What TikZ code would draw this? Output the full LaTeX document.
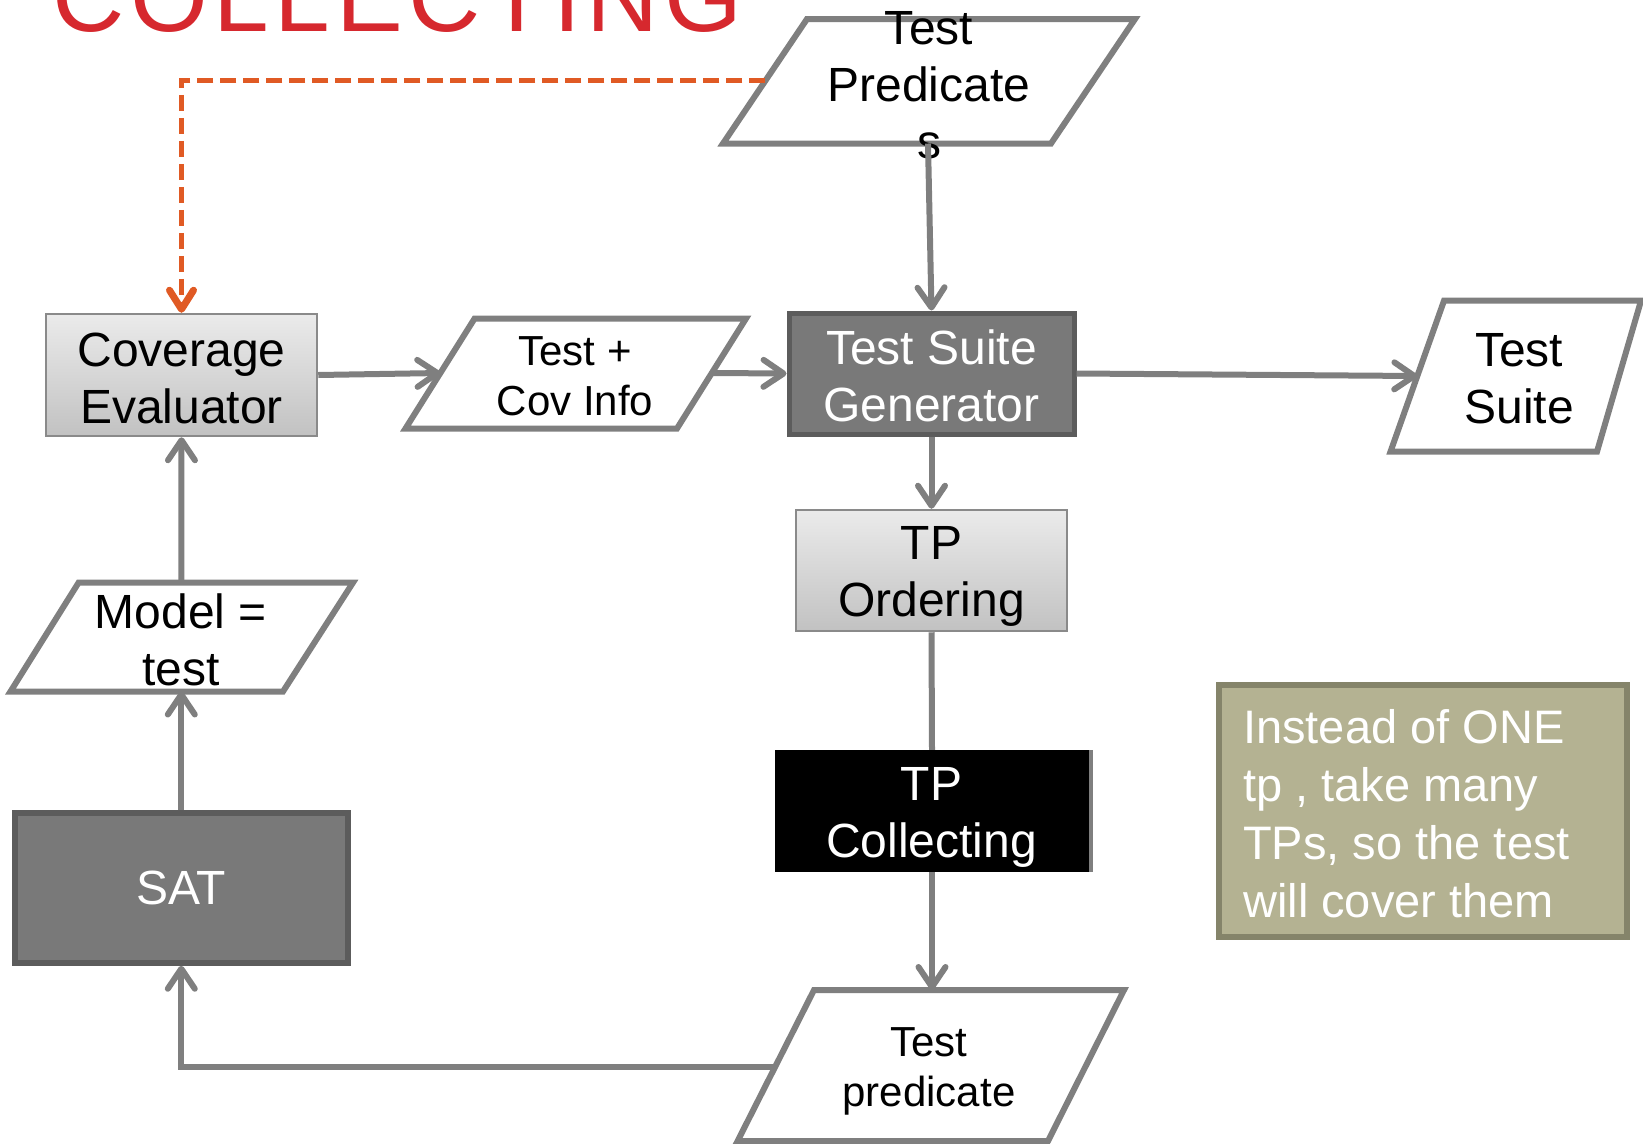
\documentclass[tikz,border=0pt]{standalone}
\usepackage{fontspec}
\setmainfont{Liberation Sans}
\newfontfamily\headingfont{Liberation Sans}[LetterSpace=5.7]
\usetikzlibrary{arrows.meta}

\definecolor{linegray}{RGB}{127,127,127}
\definecolor{boxdark}{RGB}{121,121,121}
\definecolor{boxdarkline}{RGB}{92,92,92}
\definecolor{lightline}{RGB}{138,138,138}
\definecolor{titlered}{RGB}{214,40,46}
\definecolor{dashorange}{RGB}{224,90,36}
\definecolor{notefill}{RGB}{180,178,146}
\definecolor{noteline}{RGB}{133,132,106}

\tikzset{
  big/.style={font=\fontsize{48}{57}\selectfont},
  small/.style={font=\fontsize{42}{50}\selectfont},
  para/.style={draw=linegray, line width=6pt, line join=miter, fill=white},
  lightbox/.style={draw=lightline, line width=2.5pt, top color=black!8, bottom color=black!24,
    inner sep=0pt},
  darkbox/.style={draw=boxdarkline, fill=boxdark, inner sep=0pt},
  label/.style={align=center, inner sep=0pt},
  flow/.style={draw=linegray, line width=6pt,
    -{Straight Barb[length=20pt,width=27pt,line join=round,line cap=round]}},
  plainline/.style={draw=linegray, line width=6pt},
  dashflow/.style={draw=dashorange, line width=5.5pt, dash pattern=on 16pt off 7pt,
    -{Straight Barb[length=19pt,width=24pt,line join=round,line cap=round,line width=7pt]}}
}

\begin{document}
\begin{tikzpicture}[x=1pt,y=-1pt]
\useasboundingbox (0,0) rectangle (1643,1143);

% heading, cut off by the top edge
\node[anchor=base west, inner sep=0pt, text=titlered,
      font=\headingfont\fontsize{100}{120}\selectfont] (title) at (52,31) {COLLECTING};

% ---------- data (parallelogram) symbols ----------
% Test Predicates
\draw[para] (807,19) -- (1135,19) -- (1051,143.5) -- (723,143.5) -- cycle;
\node[label, big] (tpred) at (929,85) {Test\\Predicate\\s};
\coordinate (tpred-l) at (765.4,80.7);
\coordinate (tpred-b) at (928,143.5);

% Test + Cov Info
\draw[para] (474.6,318.5) -- (746,318.5) -- (677,428.5) -- (405.5,428.5) -- cycle;
\node[label, small] (tcov) at (575,376) {Test +\\Cov Info};
\coordinate (tcov-l) at (440.4,373);
\coordinate (tcov-r) at (711.8,373);

% Test Suite
\draw[para] (1444,300.7) -- (1641,300.7) -- (1597,451.6) -- (1390.5,451.6) -- cycle;
\node[label, big] (tsuite) at (1519,379) {Test\\Suite};
\coordinate (tsuite-l) at (1417.3,376);

% Test predicate (bottom)
\draw[para] (814,990) -- (1124,990) -- (1048,1141) -- (737.6,1141) -- cycle;
\node[label, small] (tpb) at (929,1071) {Test\\predicate};
\coordinate (tpb-t) at (932,990);
\coordinate (tpb-l) at (775.3,1066.5);

% Model = test
\draw[para] (78.6,582.6) -- (353,582.6) -- (283,691.5) -- (10.5,691.5) -- cycle;
\node[label, big] (model) at (181,640) {Model =\\test};
\coordinate (model-t) at (181.3,582.6);
\coordinate (model-b) at (181.3,691.5);

% ---------- process boxes ----------
\node[lightbox, minimum width=271pt, minimum height=122pt] (cov) at (181.5,375) {};
\node[label, big] (covtext) at (181.5,378) {Coverage\\Evaluator};

\node[darkbox, line width=5pt, minimum width=285pt, minimum height=121pt] (gen) at (931.5,373.5) {};
\node[label, big, text=white] (gentext) at (931.5,376) {Test Suite\\Generator};

\node[lightbox, minimum width=271pt, minimum height=121pt] (ord) at (931.5,570.5) {};
\node[label, big] (ordtext) at (931.5,576.5) {TP\\Ordering};

% TP Collecting with its thin grey edge on the right
\fill[linegray] (1085,750) rectangle (1093,872);
\node[fill=black, inner sep=0pt, minimum width=314pt, minimum height=122pt] (coll) at (932,811) {};
\node[label, big, text=white] (colltext) at (931.5,817) {TP\\Collecting};

\node[darkbox, line width=5.5pt, minimum width=333pt, minimum height=150pt] (sat) at (181.3,888) {};
\node[label, big, text=white] (sattext) at (181.3,888) {SAT};

% note
\node[draw=noteline, fill=notefill, line width=5.5pt, inner sep=0pt,
      minimum width=408pt, minimum height=252pt] (note) at (1422.75,811) {};
\node[anchor=west, inner sep=0pt, text=white, align=left,
      font=\fontsize{47}{58}\selectfont] (notetext) at (1243,814)
  {Instead of ONE\\tp , take many\\TPs, so the test\\will cover them};

% ---------- connectors ----------
\draw[dashflow] (tpred-l) -| (cov.north);
\draw[flow] (tpred-b) -- (gen.north);
\draw[flow] (cov.east) -- (tcov-l);
\draw[flow] (tcov-r) -- (gen.west);
\draw[flow] (gen.east) -- (tsuite-l);
\draw[flow] (gen.south) -- (ord.north);
\draw[plainline] (ord.south) -- (coll.north);
\draw[flow] (coll.south) -- (tpb-t);
\draw[flow] (tpb-l) -| (sat.south);
\draw[flow] (sat.north) -- (model-b);
\draw[flow] (model-t) -- (cov.south);
\end{tikzpicture}
\end{document}
